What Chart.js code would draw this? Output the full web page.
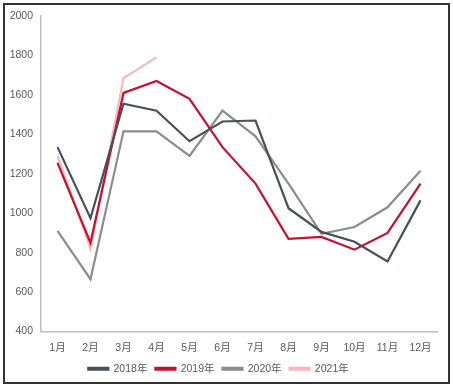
<!DOCTYPE html>
<html>
<head>
<meta charset="utf-8">
<script src="https://cdn.jsdelivr.net/npm/chart.js@4/dist/chart.umd.min.js"></script>
<style>
  html, body { margin: 0; padding: 0; background: #fff; }
  #wrap { position: relative; width: 453px; height: 388px; }
  #frame {
    position: absolute; left: 3px; top: 3px; width: 443px; height: 377px;
    border: 2px solid #333; pointer-events: none;
  }
</style>
</head>
<body>
<div id="wrap">
  <canvas id="chart" width="453" height="388"></canvas>
  <div id="frame"></div>
</div>
<script>
// 月份
const months = ["1月", "2月", "3月", "4月", "5月", "6月", "7月", "8月", "9月", "10月", "11月", "12月"];

// 各年数据
const data2018 = [1335, 975, 1555, 1520, 1365, 1465, 1470, 1025, 905, 855, 755, 1065];
const data2019 = [1255, 850, 1610, 1670, 1580, 1335, 1150, 870, 880, 815, 900, 1150];
const data2020 = [910, 665, 1415, 1415, 1290, 1520, 1390, 1150, 895, 930, 1030, 1215];
const data2021 = [1290, 820, 1685, 1790];

const seriesNames = ["2018年", "2019年", "2020年", "2021年"];
const yTicks = [400, 600, 800, 1000, 1200, 1400, 1600, 1800, 2000];

const colors = ["#475059", "#c8102e", "#8c8c8c", "#f5b7b9"];

const datasets = [data2018, data2019, data2020, data2021].map((d, i) => ({
  label: seriesNames[i],
  data: d,
  borderColor: colors[i],
  backgroundColor: colors[i],
  borderWidth: 2.2,
  pointRadius: 0,
  tension: 0,
  fill: false,
}));

const fontFamily = "'Liberation Sans', Arial, 'Noto Sans CJK SC', sans-serif";

const config = {
  type: "line",
  data: { labels: months, datasets },
  options: {
    responsive: false,
    animation: false,
    layout: { padding: { left: 0, right: 16, top: 16, bottom: 4 } },
    plugins: {
      tooltip: { enabled: false },
      legend: {
        position: "bottom",
        labels: {
          boxWidth: 20,
          boxHeight: 2,
          padding: 8,
          color: "#595959",
          font: { family: fontFamily, size: 10.5 },
        },
      },
    },
    scales: {
      x: {
        offset: true,
        grid: { display: false },
        border: { display: true, color: "#bfbfbf", width: 1.5 },
        ticks: { color: "#595959", font: { family: fontFamily, size: 10.5 }, padding: 2, maxRotation: 0 },
        afterFit: (axis) => { axis.height = 24; },
      },
      y: {
        min: 400,
        max: 2000,
        grid: { display: false },
        border: { display: true, color: "#bfbfbf", width: 1.5 },
        afterBuildTicks: (axis) => (axis.ticks = yTicks.map((v) => ({ value: v }))),
        ticks: {
          color: "#595959",
          font: { family: fontFamily, size: 10.5 },
          padding: 0,
          callback: (v) => String(v),
        },
        afterFit: (axis) => { axis.width = 41; },
      },
    },
  },
};

const canvas = document.getElementById("chart");
const myChart = new Chart(canvas, config);
</script>
</body>
</html>
